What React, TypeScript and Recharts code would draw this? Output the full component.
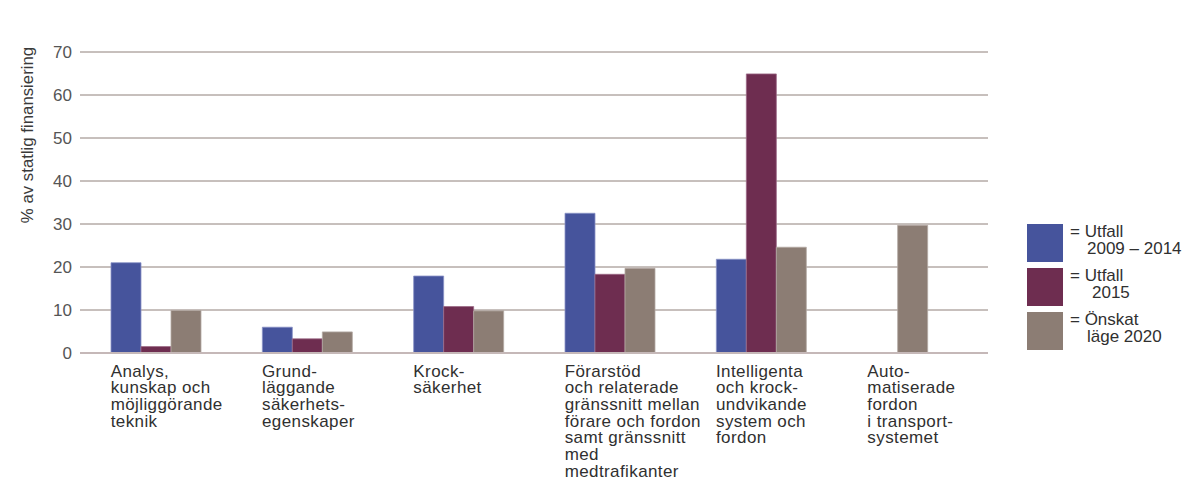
import React from "react";
import { BarChart, Bar, XAxis, YAxis, CartesianGrid, Legend, Label, Rectangle } from "recharts";

// Category labels (line breaks as set in the printed figure)
const categories = [
  "Analys,\nkunskap och\nmöjliggörande\nteknik",
  "Grund-\nläggande\nsäkerhets-\negenskaper",
  "Krock-\nsäkerhet",
  "Förarstöd\noch relaterade\ngränssnitt mellan\nförare och fordon\nsamt gränssnitt\nmed\nmedtrafikanter",
  "Intelligenta\noch krock-\nundvikande\nsystem och\nfordon",
  "Auto-\nmatiserade\nfordon\ni transport-\nsystemet",
];

// Share of state funding, percent
const utfall20092014 = [21.0, 6.0, 17.9, 32.5, 21.8, null];
const utfall2015 = [1.5, 3.3, 10.8, 18.3, 64.9, null];
const onskat2020 = [9.9, 4.9, 9.8, 19.7, 24.6, 29.7];

const yTicks = [0, 10, 20, 30, 40, 50, 60, 70];

const data = categories.map((name, i) => ({
  name,
  u0914: utfall20092014[i],
  u2015: utfall2015[i],
  o2020: onskat2020[i],
}));

const BLUE = "#46549c";
const PURPLE = "#6e2d50";
const GREY = "#8c7d74";
const FONT = "'Liberation Sans', Arial, Helvetica, sans-serif";
const BAR = 30;
const LEGEND_W = 158;

const CategoryTick = (props: any) => {
  const { x, y, payload } = props;
  const lines: string[] = String(payload.value).split("\n");
  const left = x - (BAR * 3) / 2;
  return (
    <text
      x={left}
      y={y}
      fill="#303030"
      fontSize={17}
      fontFamily={FONT}
      letterSpacing={0.4}
      textAnchor="start"
    >
      {lines.map((l, i) => (
        <tspan key={i} x={left} dy={i === 0 ? 15.5 : 16.7}>
          {l}
        </tspan>
      ))}
    </text>
  );
};

// A group that only has the 2020 target keeps that bar in the middle of its slot
const TargetBar = (props: any) => {
  const p = props.payload || {};
  const lone = p.u0914 == null && p.u2015 == null;
  return <Rectangle {...props} x={lone ? props.x - props.width : props.x} />;
};

const legendItems = [
  { color: BLUE, first: "= Utfall", second: "2009 – 2014", indent: 17 },
  { color: PURPLE, first: "= Utfall", second: "2015", indent: 22 },
  { color: GREY, first: "= Önskat", second: "läge 2020", indent: 17 },
];

const LegendBox = () => (
  <div style={{ fontFamily: FONT, fontSize: 17, color: "#303030", width: LEGEND_W }}>
    {legendItems.map((it, i) => (
      <div key={i} style={{ display: "flex", alignItems: "flex-start", marginBottom: i < 2 ? 6 : 0 }}>
        <div style={{ width: 36, height: 38, background: it.color, marginRight: 7, flex: "none" }} />
        <div style={{ lineHeight: "17px", marginTop: -1, whiteSpace: "nowrap" }}>
          <div>{it.first}</div>
          <div style={{ paddingLeft: it.indent }}>{it.second}</div>
        </div>
      </div>
    ))}
  </div>
);

const AxisTitle = () => (
  <text
    transform="translate(33,135) rotate(-90)"
    textAnchor="middle"
    fontSize={16.8}
    fontFamily={FONT}
    fill="#3a3a3a"
  >
    % av statlig finansiering
  </text>
);

export default function App() {
  return (
    <div style={{ position: "absolute", top: 0, left: 0, width: 1185, height: 499, background: "#fff" }}>
      <BarChart
        width={1185}
        height={499}
        data={data}
        margin={{ top: 52, right: 197 - LEGEND_W, left: 0, bottom: 0 }}
        barGap={0}
        barSize={BAR}
        style={{ fontFamily: FONT }}
      >
        <CartesianGrid vertical={false} stroke="#8f807b" strokeWidth={1} />
        <XAxis
          dataKey="name"
          height={146}
          interval={0}
          tickLine={false}
          axisLine={{ stroke: "#c5b8b8", strokeWidth: 2 }}
          tick={<CategoryTick />}
        />
        <YAxis
          width={80}
          domain={[0, 70]}
          ticks={yTicks}
          interval={0}
          tickLine={false}
          axisLine={false}
          tickMargin={2}
          tick={{ fill: "#555", fontSize: 17, fontFamily: FONT }}
        >
          <Label content={<AxisTitle />} />
        </YAxis>
        <Legend
          layout="vertical"
          align="right"
          verticalAlign="top"
          content={<LegendBox />}
          wrapperStyle={{ left: 1027, top: 224, right: "auto", width: LEGEND_W }}
        />
        <Bar dataKey="u0914" fill={BLUE} stroke="#8a93c6" strokeWidth={0.8} isAnimationActive={false} />
        <Bar dataKey="u2015" fill={PURPLE} stroke="#9c6a86" strokeWidth={0.8} isAnimationActive={false} />
        <Bar
          dataKey="o2020"
          fill={GREY}
          stroke="#b4a9a3"
          strokeWidth={0.8}
          isAnimationActive={false}
          shape={<TargetBar />}
        />
      </BarChart>
    </div>
  );
}
